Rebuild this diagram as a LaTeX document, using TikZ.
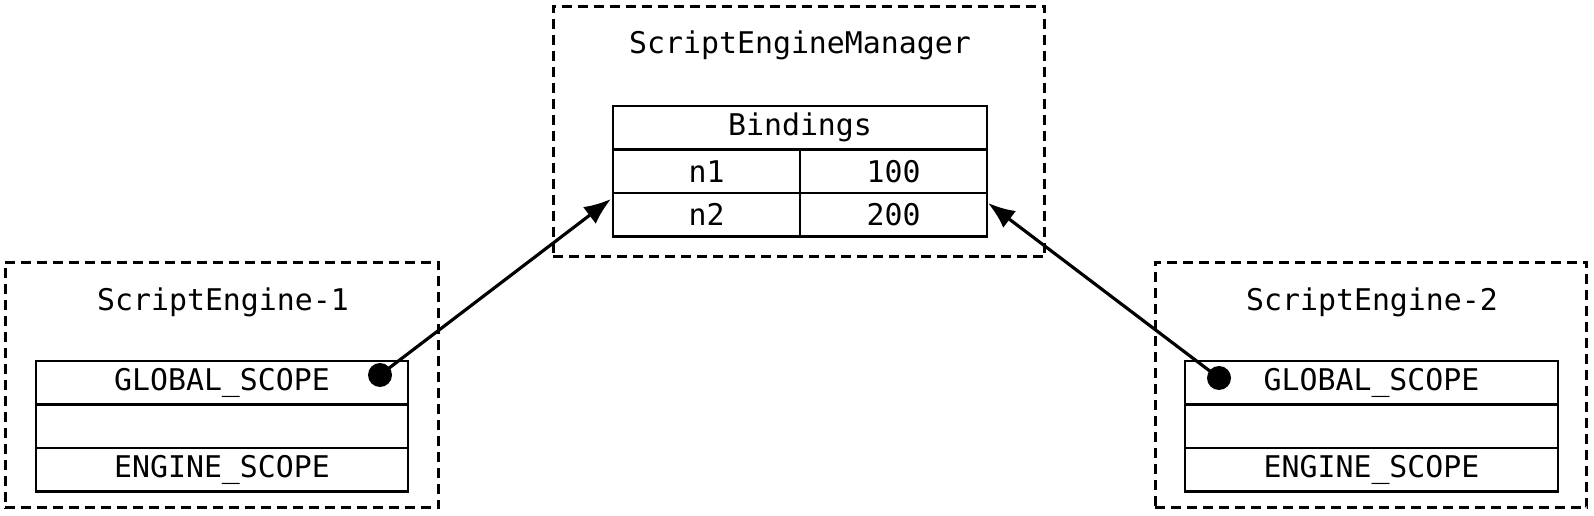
\documentclass[tikz,border=0pt]{standalone}
\usepackage{fontspec}
\setmonofont{DejaVu Sans Mono}
\usepackage{tikz}
\usetikzlibrary{
	arrows.meta,
	positioning
}

\begin{document}
\begin{tikzpicture}[
			x=0.02cm, y=-0.02cm,
			font=\ttfamily\fontsize{17}{20}\selectfont,
			caixa/.style={draw, line width=1.7pt, dash pattern=on 0.2cm off 0.12cm, minimum height=4.92cm},
			titulo/.style={inner sep=0pt},
			celula/.style={draw, line width=1.3pt, minimum height=0.87cm, inner sep=0pt},
			pino/.style={circle, fill=black, minimum size=0.48cm, inner sep=0pt},
			>={Latex[length=0.54cm, width=0.42cm]},
			liga/.style={->, line width=1.8pt}
		]
		\useasboundingbox (0,0) rectangle (1594,516);

		% gerenciador
		\node[caixa, minimum width=9.84cm, minimum height=5.02cm] (mgr) at (799,131.5) {};
		\node[titulo] (mgrtit) at (800,45) {ScriptEngineManager};
		\node[celula, minimum width=7.48cm] (bind) at (800,127.75) {Bindings};
		\node[celula, minimum width=3.74cm] (k1) at (706.5,171.25) {n1};
		\node[celula, minimum width=3.74cm] (v1) at (893.5,171.25) {100};
		\node[celula, minimum width=3.74cm] (k2) at (706.5,214.75) {n2};
		\node[celula, minimum width=3.74cm] (v2) at (893.5,214.75) {200};

		% motor 1
		\node[caixa, minimum width=8.68cm] (eng1) at (222,385) {};
		\node[titulo] (tit1) at (223,302) {ScriptEngine-1};
		\node[celula, minimum width=7.44cm] (glob1) at (222,382.75) {GLOBAL\_SCOPE};
		\node[celula, minimum width=7.44cm] (vazio1) at (222,426.25) {};
		\node[celula, minimum width=7.44cm] (eng1sc) at (222,469.75) {ENGINE\_SCOPE};
		\node[pino] (pin1) at (380,375) {};

		% motor 2
		\node[caixa, minimum width=8.64cm] (eng2) at (1371,385) {};
		\node[titulo] (tit2) at (1372,302) {ScriptEngine-2};
		\node[celula, minimum width=7.46cm] (glob2) at (1371.5,382.75) {GLOBAL\_SCOPE};
		\node[celula, minimum width=7.46cm] (vazio2) at (1371.5,426.25) {};
		\node[celula, minimum width=7.46cm] (eng2sc) at (1371.5,469.75) {ENGINE\_SCOPE};
		\node[pino] (pin2) at (1219,378) {};

		\coordinate (alvo1) at (611,199);
		\coordinate (alvo2) at (988,203);

		\draw[liga] (pin1.center) -- (alvo1);
		\draw[liga] (pin2.center) -- (alvo2);
	\end{tikzpicture}
\end{document}
